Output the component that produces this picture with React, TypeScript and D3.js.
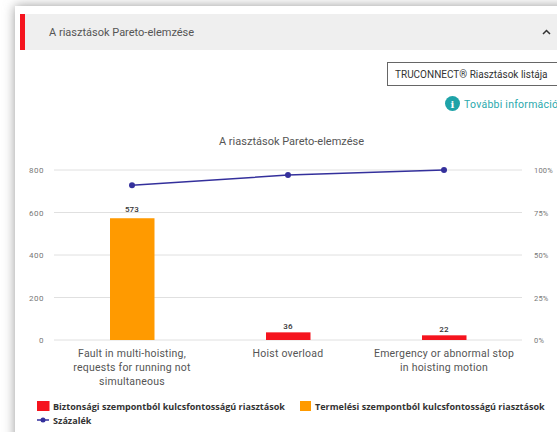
import React from "react";
import * as d3 from "d3";

const categories = ["Fault in multi-hoisting", "Hoist overload", "Emergency or abnormal stop"];
const categoryLines = [
  ["Fault in multi-hoisting,", "requests for running not", "simultaneous"],
  ["Hoist overload"],
  ["Emergency or abnormal stop", "in hoisting motion"],
];
const counts = [573, 36, 22];
const barKinds = ["production", "safety", "safety"];
const percents = [91, 97, 100];
const leftTicks = [0, 200, 400, 600, 800];
const rightTicks = [0, 25, 50, 75, 100];
const titleText = "A riasztások Pareto-elemzése";
const legendSafety = "Biztonsági szempontból kulcsfontosságú riasztások";
const legendProduction = "Termelési szempontból kulcsfontosságú riasztások";
const legendPercent = "Százalék";

const RED = "#f5141e";
const ORANGE = "#ff9a00";
const NAVY = "#34309c";
const SANS = "Roboto, sans-serif";
const LEG = "Open Sans, sans-serif";

const x = d3.scaleBand<string>().domain(categories).range([54, 522]);
const yL = d3.scaleLinear().domain([0, 800]).range([340, 170]);
const yR = d3.scaleLinear().domain([0, 100]).range([340, 170]);
const cx = (c: string) => (x(c) as number) + x.bandwidth() / 2;
const line = d3.line<number>().x((_, i) => cx(categories[i])).y((d) => yR(d));

export default function App() {
  return (
    <svg width={557} height={432} style={{ position: "absolute", left: 0, top: 0, display: "block" }}>
      <defs>
        <filter id="sh" x="-10%" y="-10%" width="120%" height="120%">
          <feGaussianBlur stdDeviation="6" />
        </filter>
      </defs>
      <rect width={557} height={432} fill="#fff" />
      <rect x={15} y={6} width={600} height={480} fill="#999" filter="url(#sh)" />
      <rect x={15} y={6} width={542} height={426} fill="#fff" />
      <rect x={20} y={14} width={537} height={36} fill="#efefef" />
      <rect x={20} y={14} width={5} height={36} fill={RED} />
      <text x={49} y={36} fontFamily={SANS} fontSize={11} fill="#555">{titleText}</text>
      <path d="M543 34l3.5-3.5 3.5 3.5" fill="none" stroke="#333" strokeWidth={1.5} />

      <rect x={387.5} y={62.5} width={175} height={23} fill="#fff" stroke="#666" strokeWidth={1} />
      <text x={395} y={78} fontFamily={SANS} fontSize={10} fill="#333">TRUCONNECT® Riasztások listája</text>
      <circle cx={452.5} cy={103.5} r={7.5} fill="#1fa3a8" />
      <text x={452.5} y={107.5} textAnchor="middle" fontFamily="DejaVu Serif, serif" fontWeight={700} fontSize={10} fill="#fff">i</text>
      <text x={464} y={108} fontFamily={SANS} fontSize={10.5} letterSpacing={0.25} fill="#2aa9ad">További információ</text>

      <text x={291.5} y={145} textAnchor="middle" fontFamily={SANS} fontSize={11} fill="#555">{titleText}</text>

      {leftTicks.map((t) => (
        <g key={t}>
          <line x1={54} x2={522} y1={yL(t)} y2={yL(t)} stroke="#e0e0e0" />
          <text x={44} y={yL(t) + 3} textAnchor="end" fontFamily={SANS} fontSize={8} letterSpacing={0.5} fill="#777">{t}</text>
        </g>
      ))}
      {rightTicks.map((t) => (
        <text key={t} x={534} y={yR(t) + 3} fontFamily={SANS} fontSize={7.5} letterSpacing={0.2} fill="#777">{t}%</text>
      ))}

      {categories.map((c, i) => (
        <g key={c}>
          <rect x={cx(c) - 22} y={yL(counts[i])} width={44.5} height={340 - yL(counts[i])} fill={barKinds[i] === "safety" ? RED : ORANGE} />
          <text x={cx(c)} y={yL(counts[i]) - (counts[i] > 100 ? 6.5 : 3.5)} textAnchor="middle" fontFamily={SANS} fontSize={8} fontWeight={500} letterSpacing={0.2} fill="#333">{counts[i]}</text>
          {categoryLines[i].map((l, j) => (
            <text key={j} x={cx(c)} y={357 + j * 14} textAnchor="middle" fontFamily={SANS} fontSize={10.5} letterSpacing={0.22} fill="#555">{l}</text>
          ))}
        </g>
      ))}

      <path d={line(percents) as string} fill="none" stroke={NAVY} strokeWidth={1.5} />
      {percents.map((p, i) => (
        <circle key={i} cx={cx(categories[i])} cy={yR(p)} r={3} fill={NAVY} />
      ))}

      <rect x={37} y={401} width={12.5} height={10} fill={RED} />
      <text x={53} y={409.5} fontFamily={LEG} fontWeight={700} fontSize={9.05} fill="#333">{legendSafety}</text>
      <rect x={300} y={401} width={11} height={10} fill={ORANGE} />
      <text x={315} y={409.5} fontFamily={LEG} fontWeight={700} fontSize={9.05} fill="#333">{legendProduction}</text>
      <line x1={37} x2={49} y1={420} y2={420} stroke={NAVY} strokeWidth={1.5} />
      <circle cx={43} cy={420} r={2.5} fill={NAVY} />
      <text x={53} y={423.5} fontFamily={LEG} fontWeight={700} fontSize={9.05} fill="#333">{legendPercent}</text>
    </svg>
  );
}
